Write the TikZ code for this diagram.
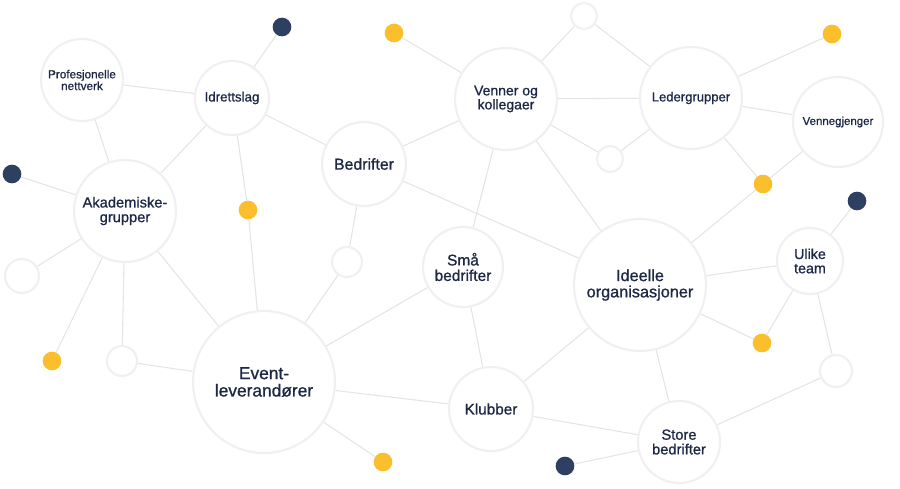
\documentclass[tikz,border=0pt]{standalone}
\usepackage{fontspec}
\setmainfont{Liberation Sans}[RawFeature={embolden=0.9}]
\usetikzlibrary{backgrounds}
\definecolor{navytext}{RGB}{28,40,70}
\definecolor{dotnavy}{RGB}{45,64,98}
\definecolor{dotyellow}{RGB}{251,190,45}
\definecolor{edgegray}{RGB}{228,228,230}
\definecolor{ringgray}{RGB}{240,240,242}
\newcommand{\fsz}[1]{\fontsize{#1}{#1}\selectfont}

\begin{document}
\begin{tikzpicture}[x=0.75pt,y=-0.75pt,
    bub/.style={circle,fill=white,draw=ringgray,line width=1.6pt,inner sep=0pt,
      minimum size=#1*1.5pt,align=center,text=navytext},
    dot/.style={circle,fill=#1,inner sep=0pt,minimum size=14pt},
    link/.style={draw=edgegray,line width=0.8pt}]
    \useasboundingbox (0,0) rectangle (900,489);
    % big circles
    \node[bub=41,font=\fsz{8.8}] (prof) at (82,80) {Profesjonelle\\nettverk};
    \node[bub=37,font=\fsz{10}] (idrett) at (232,98) {Idrettslag};
    \node[bub=42,font=\fsz{11.9}] (bedr) at (364,164) {Bedrifter};
    \node[bub=51,font=\fsz{11}] (akad) at (125,211) {Akademiske-\\grupper};
    \node[bub=51,font=\fsz{10.5}] (venner) at (506,99) {Venner og\\kollegaer};
    \node[bub=51,font=\fsz{9.8}] (leder) at (691,98) {Ledergrupper};
    \node[bub=45,font=\fsz{8.6}] (vgj) at (838,122) {Vennegjenger};
    \node[bub=71,font=\fsz{13}] (event) at (264,382) {Event-\\leverandører};
    \node[bub=40,font=\fsz{11.6}] (smaa) at (463,267) {Små\\bedrifter};
    \node[bub=66,font=\fsz{12.2}] (ideell) at (640,285) {Ideelle\\organisasjoner};
    \node[bub=33,font=\fsz{10.7}] (ulike) at (810,261) {Ulike\\team};
    \node[bub=42,font=\fsz{11.5}] (klubb) at (491,409) {Klubber};
    \node[bub=41,font=\fsz{11}] (store) at (679,442) {Store\\bedrifter};
    % empty circles
    \node[bub=13] (s1) at (584,16) {};
    \node[bub=13] (s2) at (610,159) {};
    \node[bub=15] (s3) at (347,262) {};
    \node[bub=17] (s4) at (22,276) {};
    \node[bub=15] (s5) at (122,361) {};
    \node[bub=16] (s6) at (836,371) {};
    % yellow dots
    \node[dot=dotyellow] (y1) at (394,33) {};
    \node[dot=dotyellow] (y2) at (248,210) {};
    \node[dot=dotyellow] (y3) at (832,34) {};
    \node[dot=dotyellow] (y4) at (763,184) {};
    \node[dot=dotyellow] (y5) at (52,361) {};
    \node[dot=dotyellow] (y6) at (383,462) {};
    \node[dot=dotyellow] (y7) at (762,343) {};
    % navy dots
    \node[dot=dotnavy] (n1) at (282,27) {};
    \node[dot=dotnavy] (n2) at (12,174) {};
    \node[dot=dotnavy] (n3) at (857,201) {};
    \node[dot=dotnavy] (n4) at (565,466) {};
    % connections
    \begin{scope}[on background layer]
    \foreach \a/\b in {prof/idrett,prof/akad,idrett/n1,idrett/bedr,idrett/akad,
        idrett/y2,y2/event,y1/venner,bedr/venner,bedr/ideell,bedr/s3,s3/event,
        n2/akad,akad/s4,akad/y5,akad/s5,akad/event,s5/event,event/smaa,
        event/klubb,event/y6,venner/s1,s1/leder,venner/leder,venner/s2,s2/leder,
        venner/smaa,venner/ideell,leder/y3,leder/vgj,leder/y4,vgj/y4,y4/ideell,
        smaa/klubb,ideell/klubb,ideell/store,ideell/ulike,ideell/y7,ulike/y7,
        ulike/n3,ulike/s6,s6/store,klubb/store,store/n4}
      \draw[link] (\a) -- (\b);
    \end{scope}
\end{tikzpicture}
\end{document}
